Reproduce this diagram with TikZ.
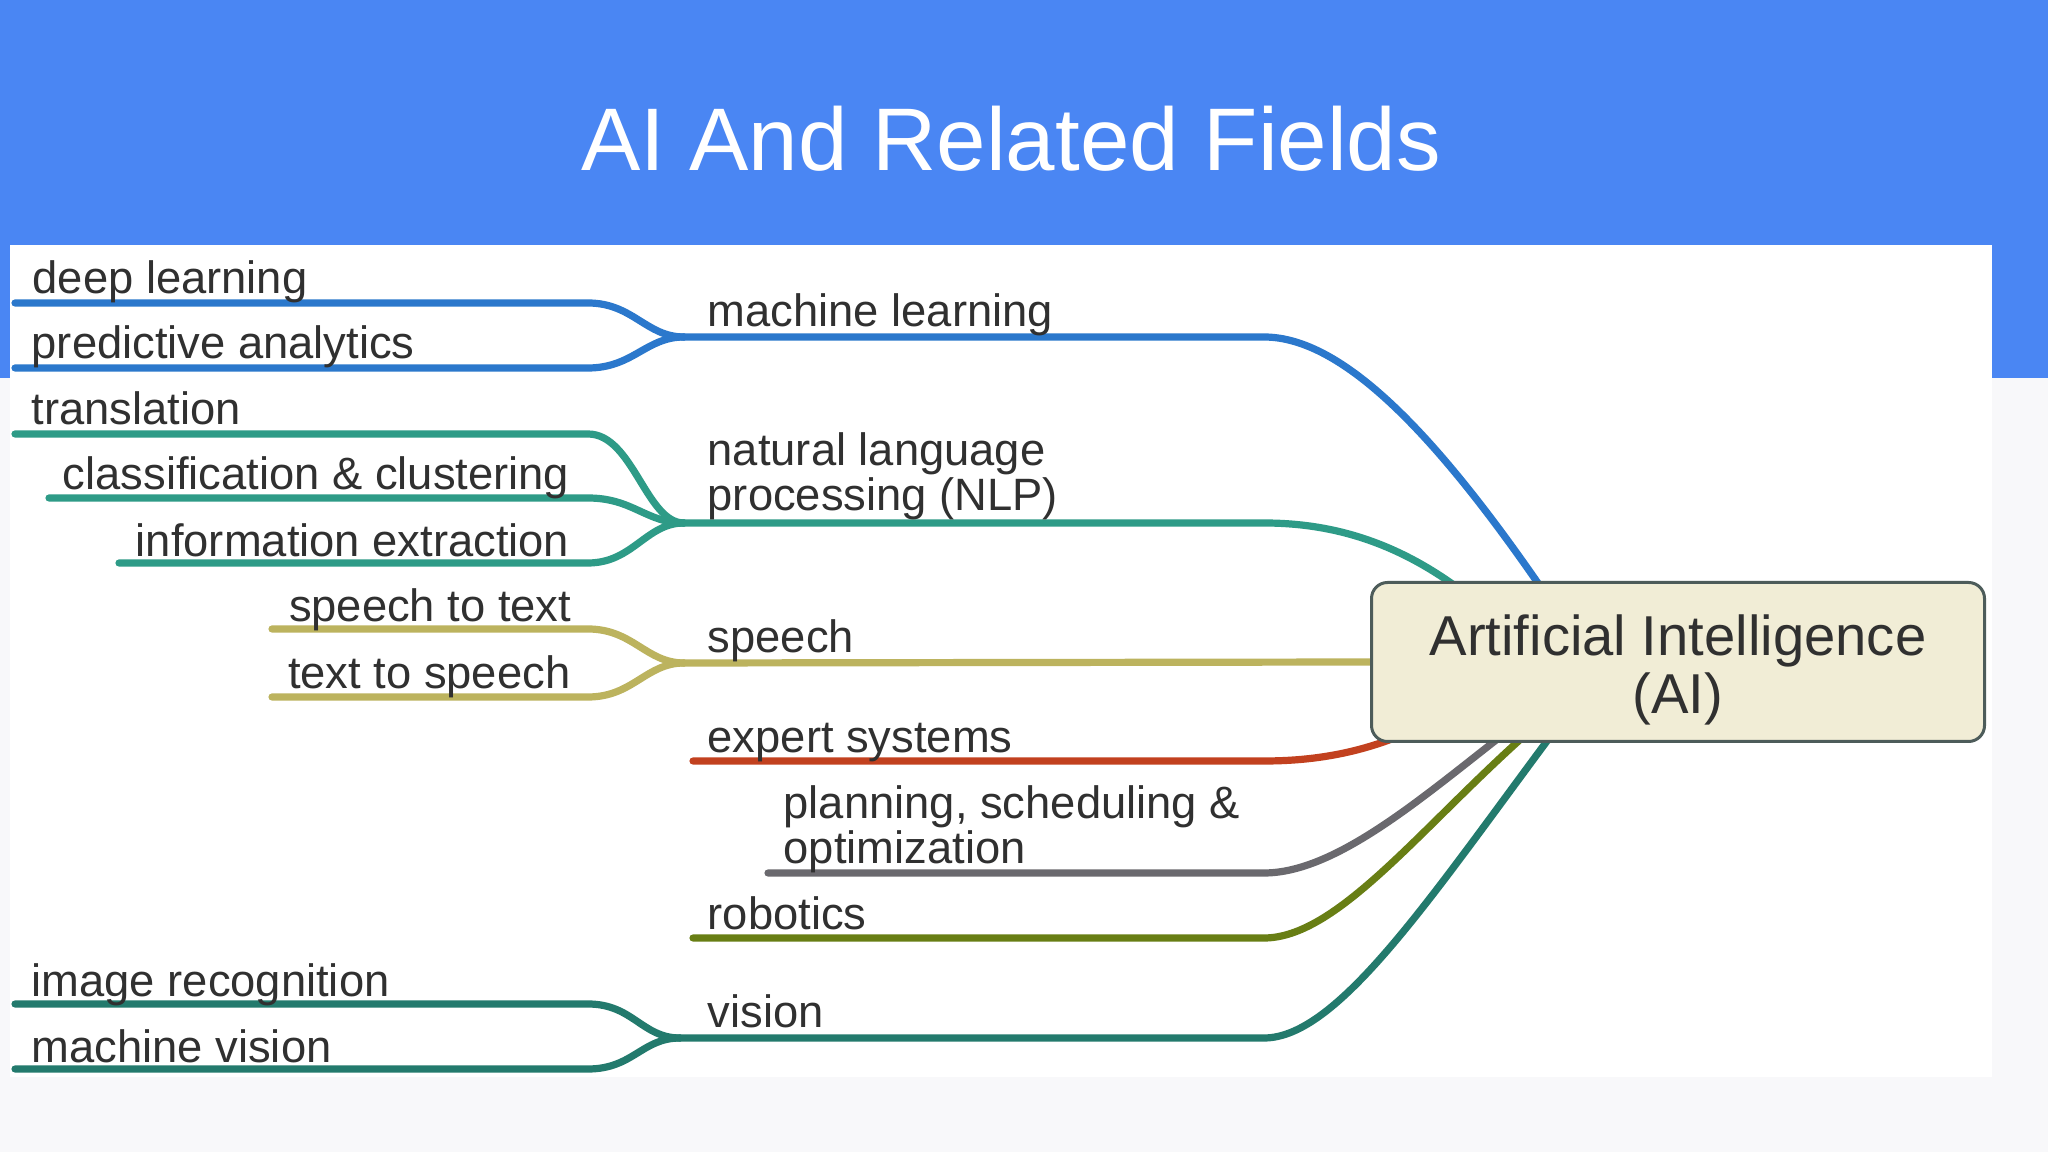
\documentclass[tikz,border=0pt]{standalone}
\usepackage{fontspec}
\setmainfont{Liberation Sans}
\usetikzlibrary{calc}
\definecolor{hdr}{HTML}{4A86F3}
\definecolor{page}{HTML}{F8F8FA}
\definecolor{ink}{HTML}{303030}
\definecolor{mlc}{HTML}{2B78CC}
\definecolor{nlpc}{HTML}{2E9B87}
\definecolor{spc}{HTML}{BCB35E}
\definecolor{exc}{HTML}{C2411F}
\definecolor{plc}{HTML}{6A696E}
\definecolor{roc}{HTML}{687E14}
\definecolor{vic}{HTML}{237A6D}
\definecolor{boxf}{HTML}{F1EDD6}
\definecolor{boxd}{HTML}{4D5C5A}
\pgfdeclarelayer{back}
\pgfdeclarelayer{wires}
\pgfsetlayers{back,wires,main}
\tikzset{
  lbl/.style={anchor=base west, inner sep=0pt, text=ink, align=left, font=\fontsize{12.9}{12.9}\selectfont},
  lblr/.style={lbl, anchor=base east},
  br/.style={line width=0.72mm, line cap=round},
  aibox/.style={draw=boxd, fill=boxf, line width=0.3mm, rounded corners=1.6mm, minimum width=61.3mm, minimum height=15.9mm, align=center, text=ink, font=\fontsize{16}{16.4}\selectfont},
  ttl/.style={anchor=base, text=white, font=\fontsize{25.3}{30}\selectfont},
}
\begin{document}
\begin{tikzpicture}[x=0.1mm, y=-0.1mm]
\useasboundingbox (0,0) rectangle (2048,1152);
\begin{pgfonlayer}{back}
\fill[page] (0,0) rectangle (2048,1152);
\fill[hdr] (0,0) rectangle (2048,378);
\fill[white] (10,245) rectangle (1992,1077);
\end{pgfonlayer}
\node[ttl] (title) at (1011,171) {AI And Related Fields};

\node[aibox] (ai) at (1678,662) {\rule{0pt}{16pt}Artificial Intelligence\\(AI)};

\coordinate (bx) at (588,0);
\coordinate (mx) at (1264,0);
\coordinate (ml-j) at (684,337);
\coordinate (nlp-j) at (684,523);
\coordinate (sp-j) at (684,663);
\coordinate (vis-j) at (680,1038);
\coordinate (dl-s) at (15,303);
\coordinate (pa-s) at (15,368);
\coordinate (tr-s) at (15,434);
\coordinate (cc-s) at (49,498);
\coordinate (ie-s) at (119,563);
\coordinate (st-s) at (272,629);
\coordinate (ts-s) at (272,697);
\coordinate (ir-s) at (15,1004);
\coordinate (mv-s) at (15,1069);
\coordinate (ex-s) at (693,761);
\coordinate (pl-s) at (768,873);
\coordinate (ro-s) at (693,938);

\node[lbl] (dl) at (32,294) {deep learning};
\node[lbl] (pa) at (31,359) {predictive analytics};
\node[lbl] (tr) at (31,425) {translation};
\node[lblr] (cc) at (570,490) {classification \& clustering};
\node[lblr] (ie) at (570,557) {information extraction};
\node[lblr] (st) at (572,622) {speech to text};
\node[lblr] (ts) at (571,689) {text to speech};
\node[lbl] (ir) at (31,997) {image recognition};
\node[lbl] (mv) at (31,1062) {machine vision};
\node[lbl] (ml) at (707,327) {machine learning};
\node[lbl] (nlp) at (707,511) {natural language\\processing (NLP)};
\node[lbl] (sp) at (707,653) {speech};
\node[lbl] (ex) at (707,753) {expert systems};
\node[lbl] (pl) at (783,864) {planning, scheduling \&\\optimization};
\node[lbl] (ro) at (707,930) {robotics};
\node[lbl] (vis) at (707,1028) {vision};

\begin{pgfonlayer}{wires}
\draw[br, mlc] (dl-s) -- (dl-s -| bx) .. controls +(45,0) and +(-38,0) .. (ml-j);
\draw[br, mlc] (pa-s) -- (pa-s -| bx) .. controls +(45,0) and +(-38,0) .. (ml-j);
\draw[br, nlpc] (tr-s) -- (tr-s -| bx) .. controls +(45,0) and +(-38,0) .. (nlp-j);
\draw[br, nlpc] (cc-s) -- (cc-s -| bx) .. controls +(45,0) and +(-38,0) .. (nlp-j);
\draw[br, nlpc] (ie-s) -- (ie-s -| bx) .. controls +(45,0) and +(-38,0) .. (nlp-j);
\draw[br, spc] (st-s) -- (st-s -| bx) .. controls +(45,0) and +(-38,0) .. (sp-j);
\draw[br, spc] (ts-s) -- (ts-s -| bx) .. controls +(45,0) and +(-38,0) .. (sp-j);
\draw[br, vic] (ir-s) -- (ir-s -| bx) .. controls +(45,0) and +(-38,0) .. (vis-j);
\draw[br, vic] (mv-s) -- (mv-s -| bx) .. controls +(45,0) and +(-38,0) .. (vis-j);
\draw[br, mlc] (ml-j) -- (ml-j -| mx) .. controls +(80,0) and +(-104,-151) .. ($(ai.north west)+(172,8)$);
\draw[br, nlpc] (nlp-j) -- (nlp-j -| mx) .. controls +(70,0) and +(-64,-48) .. ($(ai.north west)+(92,10)$);
\draw[br, spc] (sp-j) -- (ai.west);
\draw[br, exc] (ex-s) -- (ex-s -| mx) .. controls +(50,0) and +(-44,18) .. ($(ai.south west)+(32,-8)$);
\draw[br, plc] (pl-s) -- (pl-s -| mx) .. controls +(70,0) and +(-82,64) .. ($(ai.south west)+(130,-6)$);
\draw[br, roc] (ro-s) -- (ro-s -| mx) .. controls +(72,0) and +(-105,94) .. ($(ai.south west)+(153,-6)$);
\draw[br, vic] (vis-j) -- (vis-j -| mx) .. controls +(73,0) and +(-122,164) .. ($(ai.south west)+(180,-6)$);
\end{pgfonlayer}
\end{tikzpicture}
\end{document}
